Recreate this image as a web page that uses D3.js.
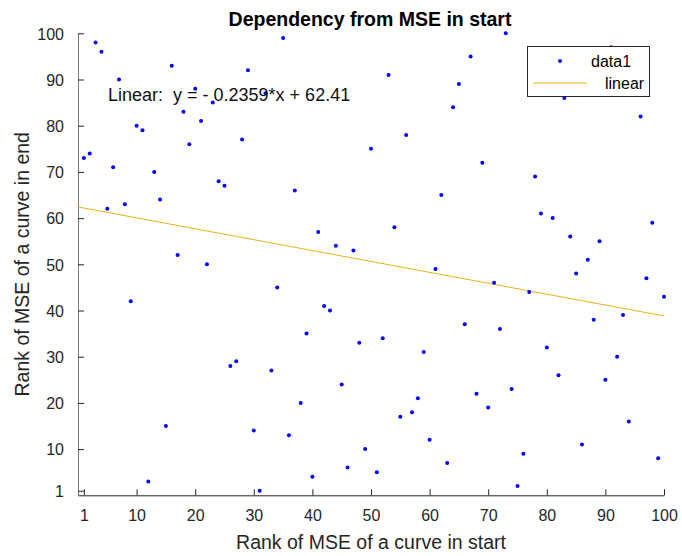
<!DOCTYPE html>
<html>
<head>
<meta charset="utf-8">
<script src="https://cdn.jsdelivr.net/npm/d3@7"></script>
<style>
html,body{margin:0;padding:0;background:#fff;}
svg{display:block;font-family:"Liberation Sans",Arial,Helvetica,sans-serif;}
</style>
</head>
<body>
<svg id="chart" width="682" height="556"></svg>
<script>
// Data: rank in start (x) vs rank in end (y)
const rankStart = d3.range(1, 101);
const rankEnd = [73,74,98,96,62,71,90,63,42,80,
                 79,3,70,64,15,93,52,83,76,88,
                 81,50,85,68,67,28,29,77,92,14,
                 1,87,27,45,99,13,66,20,35,4,
                 57,41,40,54,24,6,53,33,10,75,
                 5,34,91,58,17,78,18,21,31,12,
                 49,65,7,84,89,37,95,22,72,19,
                 46,36,100,23,2,9,44,69,61,32,
                 60,26,86,56,48,11,51,38,55,25,
                 97,30,39,16,94,82,47,59,8,43];
const fitSlope = -0.2359;
const fitIntercept = 62.41;
const fitRange = [0, 100];
const xTicks = [1,10,20,30,40,50,60,70,80,90,100];
const yTicks = [1,10,20,30,40,50,60,70,80,90,100];
const titleText = "Dependency from MSE in start";
const xLabelText = "Rank of MSE of a curve in start";
const yLabelText = "Rank of MSE of a curve in end";
const annotationText = "Linear:  y = - 0.2359*x + 62.41";
const legendLabels = ["data1", "linear"];

const svg = d3.select("#chart");
const x = d3.scaleLinear().domain([0, 100]).range([78, 664]);
const y = d3.scaleLinear().domain([0, 100]).range([495.3, 33.3]);
const axisColor = "#262626";
const tickLen = 6;

// x axis
const gx = svg.append("g").attr("transform", `translate(0,${y(0)})`)
  .call(d3.axisBottom(x).tickValues(xTicks).tickSizeInner(-tickLen).tickSizeOuter(0).tickPadding(14));
// y axis
const gy = svg.append("g").attr("transform", `translate(${x(0)},0)`)
  .call(d3.axisLeft(y).tickValues(yTicks).tickSizeInner(-tickLen).tickSizeOuter(0).tickPadding(14));
[gx, gy].forEach(g => {
  g.select(".domain").attr("stroke", axisColor).attr("stroke-width", 1);
  g.selectAll(".tick line").attr("stroke", axisColor);
  g.selectAll(".tick text").attr("fill", axisColor).style("font-size", "16px")
    .style("font-family", "'Liberation Sans', Arial, sans-serif");
});
gy.select(".domain").attr("stroke", "#777");
gy.selectAll(".tick text").attr("dy", "0.36em");

// regression line
svg.append("line")
  .attr("x1", x(fitRange[0])).attr("y1", y(fitSlope * fitRange[0] + fitIntercept))
  .attr("x2", x(fitRange[1])).attr("y2", y(fitSlope * fitRange[1] + fitIntercept))
  .attr("stroke", "#EDB120").attr("stroke-width", 1);

// points
svg.append("g").selectAll("circle")
  .data(rankStart.map((d, i) => [d, rankEnd[i]]))
  .join("circle")
  .attr("cx", d => x(d[0])).attr("cy", d => y(d[1]))
  .attr("r", 2).attr("fill", "#0000ff");

// annotation
svg.append("text").attr("x", 108).attr("y", 101)
  .attr("fill", "#111").style("font-size", "18px").attr("xml:space", "preserve")
  .style("white-space", "pre").text(annotationText);

// title
svg.append("text").attr("x", 370).attr("y", 26).attr("text-anchor", "middle")
  .attr("fill", "#000").style("font-size", "19.5px").style("font-weight", "bold").text(titleText);

// x label
svg.append("text").attr("x", 371).attr("y", 549).attr("text-anchor", "middle")
  .attr("fill", axisColor).style("font-size", "19.5px").text(xLabelText);

// y label
svg.append("text").attr("transform", `translate(29,${(y(0)+y(100))/2}) rotate(-90)`)
  .attr("text-anchor", "middle")
  .attr("fill", axisColor).style("font-size", "19.5px").text(yLabelText);

// legend
const lg = svg.append("g");
lg.append("rect").attr("x", 527.5).attr("y", 46.5).attr("width", 122).attr("height", 50)
  .attr("fill", "#fff").attr("stroke", axisColor).attr("stroke-width", 1);
lg.append("circle").attr("cx", 560).attr("cy", 61).attr("r", 2).attr("fill", "#0000ff");
lg.append("line").attr("x1", 533).attr("x2", 587).attr("y1", 83).attr("y2", 83)
  .attr("stroke", "#EDB120").attr("stroke-width", 1);
lg.append("text").attr("x", 591).attr("y", 67).attr("fill", "#000").style("font-size", "16px").text(legendLabels[0]);
lg.append("text").attr("x", 605).attr("y", 89).attr("fill", "#000").style("font-size", "16px").text(legendLabels[1]);
</script>
</body>
</html>
